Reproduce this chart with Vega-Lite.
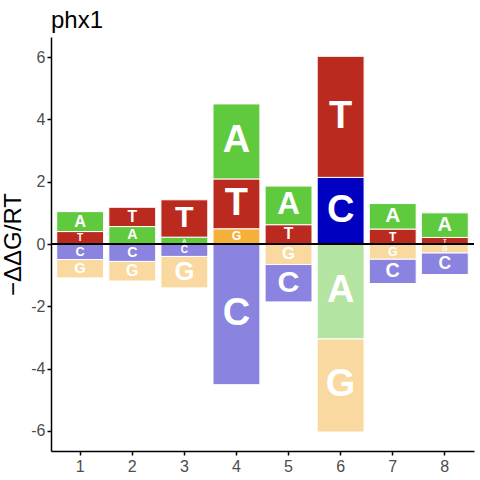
{
  "$schema": "https://vega.github.io/schema/vega-lite/v6.json",
  "width": 423,
  "height": 414,
  "autosize": "none",
  "padding": {"left": 51, "top": 37, "right": 6, "bottom": 29},
  "background": "white",
  "title": {"text": "phx1", "anchor": "start", "frame": "group", "fontSize": 24, "font": "Liberation Sans", "fontWeight": "normal", "color": "black", "offset": 4},
  "config": {
    "view": {"stroke": null},
    "axis": {"grid": false, "domainColor": "black", "domainWidth": 1.5, "tickColor": "black", "tickWidth": 1.5, "tickSize": 4, "labelColor": "#4D4D4D", "labelFont": "Liberation Sans", "labelFontSize": 16, "titleFont": "Liberation Sans", "titleFontSize": 24, "titleFontWeight": "normal", "titleColor": "black"}
  },
  "data": {"values": [
    {"pos": 1, "letter": "T", "key": "T+", "y0": 0, "y1": 0.40, "mid": 0.20, "h": 0.40},
    {"pos": 1, "letter": "A", "key": "A+", "y0": 0.40, "y1": 1.04, "mid": 0.72, "h": 0.64},
    {"pos": 1, "letter": "C", "key": "C-", "y0": 0, "y1": -0.50, "mid": -0.25, "h": 0.50},
    {"pos": 1, "letter": "G", "key": "G-", "y0": -0.50, "y1": -1.09, "mid": -0.795, "h": 0.59},
    {"pos": 2, "letter": "A", "key": "A+", "y0": 0, "y1": 0.56, "mid": 0.28, "h": 0.56},
    {"pos": 2, "letter": "T", "key": "T+", "y0": 0.56, "y1": 1.18, "mid": 0.87, "h": 0.62},
    {"pos": 2, "letter": "C", "key": "C-", "y0": 0, "y1": -0.56, "mid": -0.28, "h": 0.56},
    {"pos": 2, "letter": "G", "key": "G-", "y0": -0.56, "y1": -1.19, "mid": -0.875, "h": 0.63},
    {"pos": 3, "letter": "A", "key": "A+", "y0": 0, "y1": 0.22, "mid": 0.11, "h": 0.22},
    {"pos": 3, "letter": "T", "key": "T+", "y0": 0.22, "y1": 1.42, "mid": 0.82, "h": 1.20},
    {"pos": 3, "letter": "C", "key": "C-", "y0": 0, "y1": -0.40, "mid": -0.20, "h": 0.40},
    {"pos": 3, "letter": "G", "key": "G-", "y0": -0.40, "y1": -1.41, "mid": -0.905, "h": 1.01},
    {"pos": 4, "letter": "G", "key": "G+", "y0": 0, "y1": 0.49, "mid": 0.245, "h": 0.49},
    {"pos": 4, "letter": "T", "key": "T+", "y0": 0.49, "y1": 2.09, "mid": 1.29, "h": 1.60},
    {"pos": 4, "letter": "A", "key": "A+", "y0": 2.09, "y1": 4.50, "mid": 3.295, "h": 2.41},
    {"pos": 4, "letter": "C", "key": "C-", "y0": 0, "y1": -4.52, "mid": -2.26, "h": 4.52},
    {"pos": 5, "letter": "T", "key": "T+", "y0": 0, "y1": 0.62, "mid": 0.31, "h": 0.62},
    {"pos": 5, "letter": "A", "key": "A+", "y0": 0.62, "y1": 1.86, "mid": 1.24, "h": 1.24},
    {"pos": 5, "letter": "G", "key": "G-", "y0": 0, "y1": -0.66, "mid": -0.33, "h": 0.66},
    {"pos": 5, "letter": "C", "key": "C-", "y0": -0.66, "y1": -1.86, "mid": -1.26, "h": 1.20},
    {"pos": 6, "letter": "C", "key": "C+", "y0": 0, "y1": 2.14, "mid": 1.07, "h": 2.14},
    {"pos": 6, "letter": "T", "key": "T+", "y0": 2.14, "y1": 6.03, "mid": 4.085, "h": 3.89},
    {"pos": 6, "letter": "A", "key": "A-", "y0": 0, "y1": -3.05, "mid": -1.525, "h": 3.05},
    {"pos": 6, "letter": "G", "key": "G-", "y0": -3.05, "y1": -6.04, "mid": -4.545, "h": 2.99},
    {"pos": 7, "letter": "T", "key": "T+", "y0": 0, "y1": 0.48, "mid": 0.24, "h": 0.48},
    {"pos": 7, "letter": "A", "key": "A+", "y0": 0.48, "y1": 1.30, "mid": 0.89, "h": 0.82},
    {"pos": 7, "letter": "G", "key": "G-", "y0": 0, "y1": -0.49, "mid": -0.245, "h": 0.49},
    {"pos": 7, "letter": "C", "key": "C-", "y0": -0.49, "y1": -1.27, "mid": -0.88, "h": 0.78},
    {"pos": 8, "letter": "T", "key": "T+", "y0": 0, "y1": 0.21, "mid": 0.105, "h": 0.21},
    {"pos": 8, "letter": "A", "key": "A+", "y0": 0.21, "y1": 1.00, "mid": 0.605, "h": 0.79},
    {"pos": 8, "letter": "G", "key": "G-", "y0": 0, "y1": -0.29, "mid": -0.145, "h": 0.29},
    {"pos": 8, "letter": "C", "key": "C-", "y0": -0.29, "y1": -0.98, "mid": -0.635, "h": 0.69}
  ]},
  "layer": [
    {
      "mark": {"type": "bar", "stroke": "white", "strokeWidth": 1},
      "encoding": {
        "x": {"field": "pos", "type": "ordinal", "scale": {"paddingInner": 0.1, "paddingOuter": 0.11}, "axis": {"labelAngle": 0, "title": null, "labelPadding": 3}},
        "y": {"field": "y0", "type": "quantitative", "scale": {"domain": [-6.65, 6.65], "nice": false, "zero": false}, "axis": {"values": [-6, -4, -2, 0, 2, 4, 6], "labelExpr": "'' + datum.value", "title": "−ΔΔG/RT", "titlePadding": 5, "labelPadding": 2}},
        "y2": {"field": "y1"},
        "color": {"field": "key", "type": "nominal", "scale": {"domain": ["A+", "T+", "C+", "G+", "A-", "C-", "G-"], "range": ["#5FCA3E", "#BA2A1F", "#0000C0", "#F5B03A", "#B3E4A1", "#8A84E0", "#F9D9A0"]}, "legend": null}
      }
    },
    {
      "mark": {"type": "text", "color": "white", "fontWeight": "bold", "font": "Liberation Sans", "baseline": "middle", "align": "center"},
      "encoding": {
        "x": {"field": "pos", "type": "ordinal"},
        "y": {"field": "mid", "type": "quantitative"},
        "text": {"field": "letter"},
        "size": {"field": "h", "type": "quantitative", "scale": {"domain": [0, 1.5], "range": [0, 38], "clamp": true}, "legend": null}
      }
    },
    {
      "mark": {"type": "rule", "color": "black", "strokeWidth": 1},
      "encoding": {"y": {"datum": 0}}
    }
  ]
}
